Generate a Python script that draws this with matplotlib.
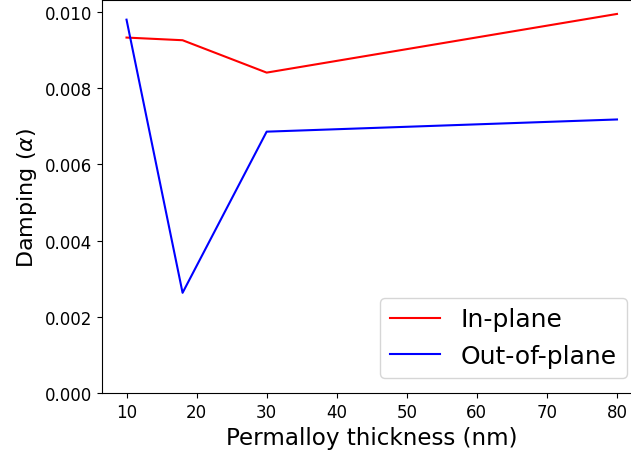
import numpy as np
import matplotlib
matplotlib.use("Agg")
import matplotlib.pyplot as plt

# permalloy thickness (nm) and damping values
thickness = [10, 18, 30, 80]
damping_in_plane = [0.00933, 0.00926, 0.00841, 0.00995]
damping_out_of_plane = [0.00980, 0.00263, 0.00686, 0.00718]

fig = plt.figure(figsize=(6.31, 4.56), dpi=100)
# axes run past the right edge, as in the (cropped) original
ax = fig.add_axes([102 / 631, 62 / 456, 539.5 / 631, 393 / 456])

ax.plot(thickness, damping_in_plane, color="r", lw=1.5, label="In-plane")
ax.plot(thickness, damping_out_of_plane, color="b", lw=1.5, label="Out-of-plane")

ax.set_ylim(bottom=0)
ax.set_xlabel("Permalloy thickness (nm)", fontsize=16.6)
ax.set_ylabel(r"Damping ($\alpha$)", fontsize=16)
ax.tick_params(labelsize=12)
ax.set_yticks(np.arange(0, 0.0101, 0.002))
ax.legend(loc="lower right", fontsize=18, borderaxespad=0.6)

fig.savefig("out.png", dpi=100)
